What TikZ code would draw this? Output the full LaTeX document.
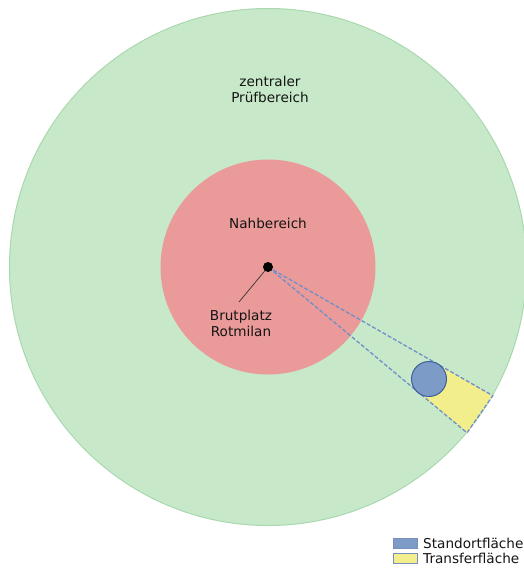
\documentclass[tikz,border=0pt]{standalone}
\usepackage{fontspec}
\setmainfont{DejaVu Sans}
\begin{document}
\definecolor{gfill}{HTML}{C7E9C9}
\definecolor{gline}{HTML}{A9D8AE}
\definecolor{rfill}{HTML}{EA9A99}
\definecolor{bfill}{HTML}{7C9CC7}
\definecolor{bline}{HTML}{3F5E9C}
\definecolor{yfill}{HTML}{F3EE8C}
\definecolor{dline}{HTML}{6E8FC9}
\begin{tikzpicture}[x=1pt,y=-1pt,
  lbl/.style={font=\fontsize{13.6}{16.5}\selectfont, text=black!92, inner sep=0pt, align=center},
  legbox/.style={draw=bline!70, line width=0.6pt, minimum width=24pt, minimum height=10pt, inner sep=0pt},
  wedge/.style={draw=dline, dash pattern=on 4pt off 2pt, line width=1.3pt}]
\useasboundingbox (0,0) rectangle (523,573);
\fill[white] (0,0) rectangle (523,573);
% centre
\coordinate (C) at (268,267);
% zentraler Pruefbereich
\fill[gfill, draw=gline, line width=1pt] (C) circle (258.5);
% Nahbereich
\fill[rfill] (C) circle (107.5);
% wedge geometry
\coordinate (U) at (492.8,395.7);
\coordinate (L) at (467.0,432.8);
\coordinate (Ui) at (437.5,364.1);
\coordinate (Li) at (418.0,392.0);
\fill[yfill] (Ui) -- (U) -- (L) -- (Li) -- cycle;
\draw[wedge] (C) -- (U) -- (L) -- cycle;
\fill[bfill, draw=bline, line width=1pt] (429,379) circle (17.5);
% dot
\node[circle, fill=black, inner sep=0pt, minimum size=10pt] (dot) at (C) {};
% labels
\node[lbl] (zp) at (270,89.5) {zentraler\\Prüfbereich};
\node[lbl] (nb) at (268,223) {Nahbereich};
\node[lbl] (br) at (241,323.5) {Brutplatz\\Rotmilan};
\coordinate (lt) at (239,302);
\draw[black!80, line width=0.7pt] (dot) -- (lt);
% legend
\node[legbox, fill=bfill, anchor=north west] (lb) at (393,538) {};
\node[legbox, fill=yfill, anchor=north west] (ly) at (393,553) {};
\node[lbl, anchor=west] (lbt) at (423,543) {Standortfläche};
\node[lbl, anchor=west] (lyt) at (423,558) {Transferfläche};
\end{tikzpicture}
\end{document}
